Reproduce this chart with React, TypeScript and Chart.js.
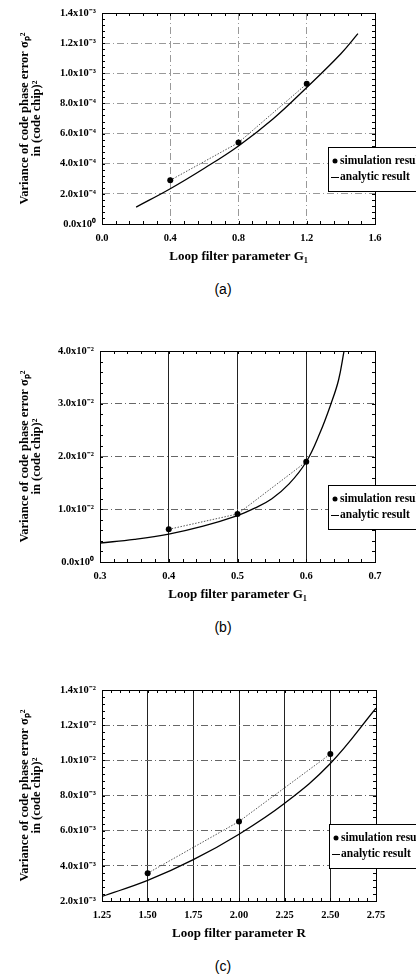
import React, { useEffect, useRef } from "react";
import { Chart, registerables } from "chart.js";

Chart.register(...registerables);

const SERIF = "'Liberation Serif', 'Times New Roman', serif";

// ---------- Panel (a) ----------
const aXTicks = ["0.0", "0.4", "0.8", "1.2", "1.6"];
const aYTicks = ["0.0x10⁰", "2.0x10⁻⁴", "4.0x10⁻⁴", "6.0x10⁻⁴", "8.0x10⁻⁴", "1.0x10⁻³", "1.2x10⁻³", "1.4x10⁻³"];
const aSimX = [0.4, 0.8, 1.2];
const aSimY = [2.9e-4, 5.4e-4, 9.3e-4];
const aCurveX = [0.2, 0.4, 0.6, 0.8, 1.0, 1.2, 1.4, 1.5];
const aCurveY = [1.12e-4, 2.34e-4, 3.7e-4, 5.18e-4, 6.95e-4, 9.06e-4, 1.13e-3, 1.263e-3];

// ---------- Panel (b) ----------
const bXTicks = ["0.3", "0.4", "0.5", "0.6", "0.7"];
const bYTicks = ["0.0x10⁰", "1.0x10⁻²", "2.0x10⁻²", "3.0x10⁻²", "4.0x10⁻²"];
const bSimX = [0.4, 0.5, 0.6];
const bSimY = [6.2e-3, 9.1e-3, 1.9e-2];
const bCurveX = [0.3, 0.35, 0.4, 0.45, 0.5, 0.525, 0.55, 0.575, 0.6, 0.62, 0.636, 0.647, 0.655];
const bCurveY = [3.6e-3, 4.3e-3, 5.3e-3, 6.8e-3, 8.8e-3, 1.02e-2, 1.2e-2, 1.48e-2, 1.9e-2, 2.45e-2, 3.0e-2, 3.45e-2, 4.0e-2];

// ---------- Panel (c) ----------
const cXTicks = ["1.25", "1.50", "1.75", "2.00", "2.25", "2.50", "2.75"];
const cYTicks = ["2.0x10⁻³", "4.0x10⁻³", "6.0x10⁻³", "8.0x10⁻³", "1.0x10⁻²", "1.2x10⁻²", "1.4x10⁻²"];
const cSimX = [1.5, 2.0, 2.5];
const cSimY = [3.58e-3, 6.52e-3, 1.036e-2];
const cCurveX = [1.25, 1.5, 1.75, 2.0, 2.25, 2.5, 2.75];
const cCurveY = [2.26e-3, 3.17e-3, 4.35e-3, 5.8e-3, 7.56e-3, 9.82e-3, 1.296e-2];

const seriesLabels = ["simulation result", "analytic result"];
const yTitleLines = ["Variance of code phase error σₚ²", "in (code chip)²"];
const xTitleG = "Loop filter parameter G₁";
const xTitleR = "Loop filter parameter R";

type PanelCfg = {
  top: number;
  left: number;
  right: number;
  xMin: number; xMax: number; xStep: number; xMinor: number; xLabels: string[];
  yMin: number; yMax: number; yStep: number; yMinor: number; yLabels: string[];
  simX: number[]; simY: number[]; curveX: number[]; curveY: number[];
  solidX: boolean;
  xTitle: string;
  caption: string;
};

const panels: PanelCfg[] = [
  { top: 0, left: 102, right: 375, xMin: 0, xMax: 1.6, xStep: 0.4, xMinor: 0.08, xLabels: aXTicks,
    yMin: 0, yMax: 1.4e-3, yStep: 2e-4, yMinor: 4e-5, yLabels: aYTicks,
    simX: aSimX, simY: aSimY, curveX: aCurveX, curveY: aCurveY, solidX: false, xTitle: xTitleG, caption: "(a)" },
  { top: 338, left: 100, right: 375, xMin: 0.3, xMax: 0.7, xStep: 0.1, xMinor: 0.02, xLabels: bXTicks,
    yMin: 0, yMax: 4e-2, yStep: 1e-2, yMinor: 2e-3, yLabels: bYTicks,
    simX: bSimX, simY: bSimY, curveX: bCurveX, curveY: bCurveY, solidX: true, xTitle: xTitleG, caption: "(b)" },
  { top: 677, left: 102, right: 376, xMin: 1.25, xMax: 2.75, xStep: 0.25, xMinor: 0.05, xLabels: cXTicks,
    yMin: 2e-3, yMax: 1.4e-2, yStep: 2e-3, yMinor: 4e-4, yLabels: cYTicks,
    simX: cSimX, simY: cSimY, curveX: cCurveX, curveY: cCurveY, solidX: true, xTitle: xTitleR, caption: "(c)" },
];

const CANVAS_H = 280;
const PLOT_TOP = 13;
const PLOT_BOTTOM = 224;

const framePlugin = {
  id: "frameMinor",
  beforeDatasetsDraw(chart: any, _a: any, opts: any) {
    const { ctx, chartArea: ca, scales } = chart;
    const xs = scales.x, ys = scales.y;
    ctx.save();
    ctx.strokeStyle = "#000";
    ctx.lineWidth = 1;
    ctx.strokeRect(Math.round(ca.left) + 0.5, Math.round(ca.top) + 0.5, Math.round(ca.right - ca.left), Math.round(ca.bottom - ca.top));
    ctx.beginPath();
    const nx = Math.round((xs.max - xs.min) / opts.xMinor);
    for (let i = 1; i < nx; i++) {
      const px = Math.round(xs.getPixelForValue(xs.min + i * opts.xMinor)) + 0.5;
      const len = 3;
      ctx.moveTo(px, ca.bottom); ctx.lineTo(px, ca.bottom - len);
      ctx.moveTo(px, ca.top); ctx.lineTo(px, ca.top + len);
    }
    const ny = Math.round((ys.max - ys.min) / opts.yMinor);
    for (let i = 1; i < ny; i++) {
      const py = Math.round(ys.getPixelForValue(ys.min + i * opts.yMinor)) + 0.5;
      const len = 3;
      ctx.moveTo(ca.left, py); ctx.lineTo(ca.left + len, py);
      ctx.moveTo(ca.right, py); ctx.lineTo(ca.right - len, py);
    }
    ctx.stroke();
    ctx.restore();
  },
};

const boxLegendPlugin = {
  id: "boxLegend",
  afterDraw(chart: any, _a: any, opts: any) {
    const { ctx, chartArea: ca } = chart;
    const x = Math.round(ca.right + opts.dx);
    const y = Math.round(ca.top + opts.dy);
    ctx.save();
    ctx.fillStyle = "#fff";
    ctx.fillRect(x, y, opts.width, opts.height);
    ctx.strokeStyle = "#000";
    ctx.lineWidth = 1;
    ctx.strokeRect(x + 0.5, y + 0.5, opts.width, opts.height);
    ctx.font = opts.font;
    ctx.textBaseline = "middle";
    ctx.fillStyle = "#000";
    chart.data.datasets.forEach((d: any, i: number) => {
      const ly = y + opts.rows[i];
      if (d.pointRadius > 0) {
        ctx.beginPath();
        ctx.arc(x + 7, ly, 2.5, 0, Math.PI * 2);
        ctx.fill();
      } else {
        ctx.beginPath();
        ctx.moveTo(x + 3, ly + 0.5);
        ctx.lineTo(x + 11, ly + 0.5);
        ctx.stroke();
      }
      ctx.fillText(d.label, x + 12, ly);
    });
    ctx.restore();
  },
};

function PanelChart({ p }: { p: PanelCfg }) {
  const ref = useRef<HTMLCanvasElement | null>(null);
  useEffect(() => {
    if (!ref.current) return;
    const simData = p.simX.map((x, i) => ({ x, y: p.simY[i] }));
    const curveData = p.curveX.map((x, i) => ({ x, y: p.curveY[i] }));
    const dashDot = [7, 3, 1, 3];
    const chart = new Chart(ref.current, {
      type: "line",
      data: {
        datasets: [
          {
            label: seriesLabels[0],
            data: simData,
            showLine: true,
            borderColor: "#555",
            borderWidth: 1,
            borderDash: [1.5, 1.5],
            pointRadius: 3,
            pointBackgroundColor: "#000",
            pointBorderColor: "#000",
            pointBorderWidth: 0,
            tension: 0,
          },
          {
            label: seriesLabels[1],
            data: curveData,
            borderColor: "#000",
            borderWidth: 1.3,
            pointRadius: 0,
            tension: 0.4,
          },
        ],
      },
      options: {
        animation: false,
        responsive: false,
        devicePixelRatio: 1,
        layout: { padding: { top: PLOT_TOP, right: 416 - p.right, left: 0, bottom: 0 } },
        plugins: {
          legend: { display: false },
          tooltip: { enabled: false },
          boxLegend: { dx: -47, dy: 134, width: 120, height: 44, rows: [14, 30], font: `bold 11.5px ${SERIF}` },
          frameMinor: { xMinor: p.xMinor, yMinor: p.yMinor },
        } as any,
        scales: {
          x: {
            type: "linear",
            min: p.xMin,
            max: p.xMax,
            ticks: {
              stepSize: p.xStep,
              padding: 8,
              color: "#000",
              font: { family: SERIF, size: 10.5, weight: "bold" },
              maxRotation: 0,
              callback: (_v: any, i: number) => p.xLabels[i] ?? "",
            },
            grid: {
              drawTicks: false,
              color: p.solidX ? "#222" : "#999",
              lineWidth: 1,
            },
            border: { display: true, color: "#000", width: 1, dash: p.solidX ? [] : dashDot },
            title: {
              display: true,
              text: p.xTitle,
              color: "#000",
              font: { family: SERIF, size: 13, weight: "bold", lineHeight: 1.2 },
              padding: { top: 0, bottom: (CANVAS_H - 257) - 7.8 },
            },
            afterFit: (s: any) => { s.height = CANVAS_H - PLOT_BOTTOM; },
          } as any,
          y: {
            type: "linear",
            min: p.yMin,
            max: p.yMax,
            ticks: {
              stepSize: p.yStep,
              padding: 6,
              color: "#000",
              font: { family: SERIF, size: 10.5, weight: "bold" },
              callback: (_v: any, i: number) => p.yLabels[i] ?? "",
            },
            grid: {
              drawTicks: false,
              color: p.solidX ? "#666" : "#999",
              lineWidth: 1,
            },
            border: { display: true, color: "#000", width: 1, dash: dashDot },
            title: {
              display: true,
              text: yTitleLines,
              color: "#000",
              font: { family: SERIF, size: 12.5, weight: "bold", lineHeight: 0.9 },
              padding: { top: 25 - 5.6, bottom: 0 },
            },
            afterFit: (s: any) => { s.width = p.left; },
          } as any,
        },
      },
      plugins: [framePlugin as any, boxLegendPlugin as any],
    });
    return () => chart.destroy();
  }, [p]);

  return (
    <div style={{ position: "absolute", left: 0, top: p.top, width: 416, height: CANVAS_H }}>
      <canvas ref={ref} width={416} height={CANVAS_H} style={{ display: "block", width: 416, height: CANVAS_H }} />
      <div
        style={{
          position: "absolute",
          left: 0,
          width: 446,
          top: 289 - 9,
          textAlign: "center",
          fontFamily: "'Liberation Sans', Arial, sans-serif",
          fontSize: 14,
          lineHeight: "18px",
          color: "#000",
        }}
      >
        {p.caption}
      </div>
    </div>
  );
}

export default function App() {
  return (
    <div style={{ position: "absolute", left: 0, top: 0, width: 416, height: 980, background: "#fff", overflow: "hidden" }}>
      {panels.map((p, i) => (
        <PanelChart key={i} p={p} />
      ))}
    </div>
  );
}
